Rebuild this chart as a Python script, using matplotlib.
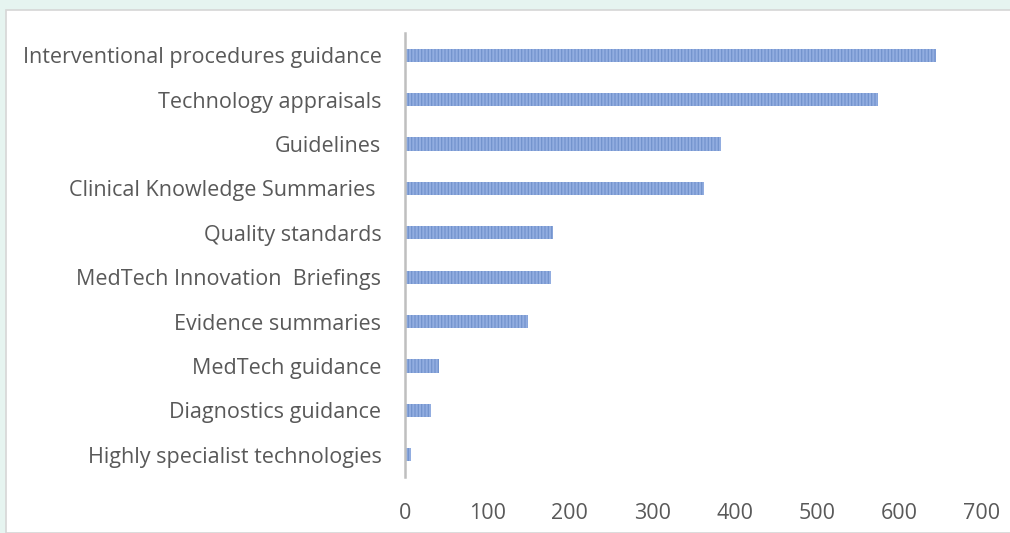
import matplotlib.pyplot as plt
from matplotlib.patches import Rectangle

categories = ['Interventional procedures guidance', 'Technology appraisals', 'Guidelines',
              'Clinical Knowledge Summaries ', 'Quality standards', 'MedTech Innovation  Briefings',
              'Evidence summaries', 'MedTech guidance', 'Diagnostics guidance',
              'Highly specialist technologies']
values = [644, 574, 383, 363, 180, 177, 149, 41, 32, 7]
xticks = [0, 100, 200, 300, 400, 500, 600, 700]

plt.rcParams['font.family'] = ['Open Sans', 'DejaVu Sans']
plt.rcParams['hatch.linewidth'] = 0.9
plt.rcParams['hatch.color'] = '#7393cd'

fig = plt.figure(figsize=(10.1, 5.33), dpi=100)
fig.patch.set_facecolor('#e6f4f0')
# white panel with thin grey border
fig.patches.append(Rectangle((6/1010, 0), 1.0, 1 - 10/533, transform=fig.transFigure,
                             facecolor='white', edgecolor='#d6d6d6', linewidth=1.2, zorder=-5))

ax = fig.add_axes([405/1010, 1 - 477/533, 577/1010, 444/533])
ax.set_zorder(2)
ax.set_facecolor('none')
pos = list(range(len(categories)))
ax.barh(pos, values, height=0.3, color='#92ade0', hatch='|||||', linewidth=0)
ax.set_ylim(len(categories) - 0.5, -0.5)
ax.set_xlim(0, 700)
ax.set_xticks(xticks)
ax.set_yticks(pos)
ax.set_yticklabels(categories)
ax.tick_params(length=0, labelsize=15.5, colors='#595959')
ax.tick_params(axis='y', pad=17)
ax.tick_params(axis='x', pad=19)
for s in ['top', 'right', 'bottom']:
    ax.spines[s].set_visible(False)
ax.spines['left'].set_color('#bfbfbf')
ax.spines['left'].set_linewidth(1.8)

fig.savefig('out.png', dpi=100, facecolor=fig.get_facecolor())
